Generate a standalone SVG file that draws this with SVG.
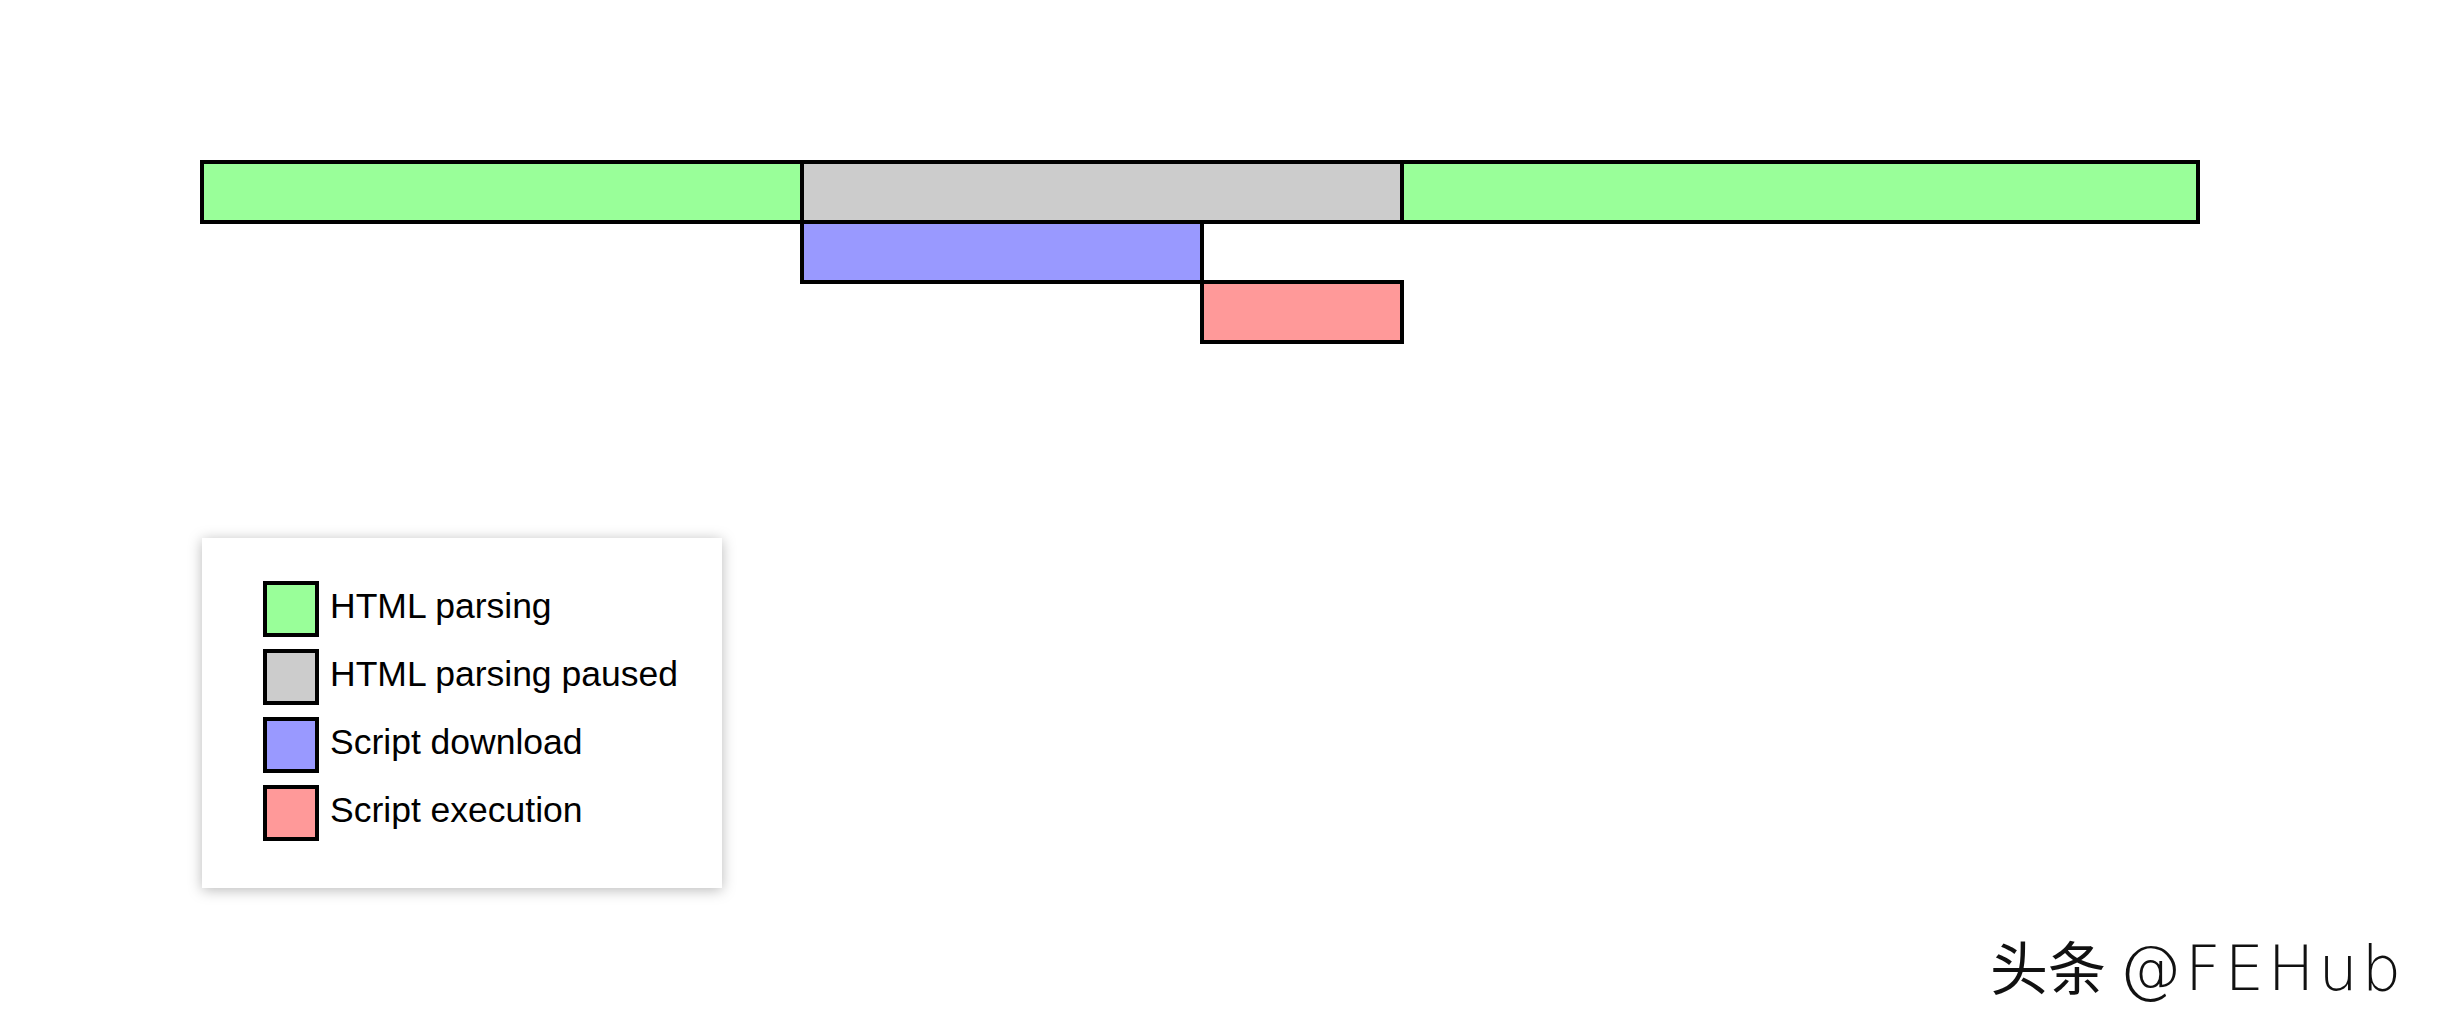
<svg xmlns="http://www.w3.org/2000/svg" width="2440" height="1030" viewBox="0 0 2440 1030">
  <defs>
    <filter id="shadow" x="-10%" y="-10%" width="120%" height="120%">
      <feDropShadow dx="0" dy="2" stdDeviation="7" flood-color="#000" flood-opacity="0.28"/>
    </filter>
  </defs>
  <style>
    .bar { stroke: #000; stroke-width: 4; }
    .parse { fill: #99ff99; }
    .paused { fill: #cccccc; }
    .download { fill: #9999ff; }
    .exec { fill: #ff9999; }
    .label { font-family: "Liberation Sans", Arial, sans-serif; font-size: 35.5px; fill: #000; }
    .wm { font-family: "Noto Sans CJK SC", "Noto Sans", sans-serif; font-size: 58px; font-weight: 400; fill: #111; }
    .wm-latin { font-family: "DejaVu Sans", "Noto Sans", sans-serif; font-size: 62px; font-weight: 200; letter-spacing: 4px; }
  </style>
  <rect width="2440" height="1030" fill="#fff"/>
  <g id="timeline">
    <g id="parse1"><rect class="bar parse" x="202" y="162" width="600" height="60"/></g>
    <g id="paused"><rect class="bar paused" x="802" y="162" width="600" height="60"/></g>
    <g id="parse2"><rect class="bar parse" x="1402" y="162" width="796" height="60"/></g>
    <g id="download"><rect class="bar download" x="802" y="222" width="400" height="60"/></g>
    <g id="execution"><rect class="bar exec" x="1202" y="282" width="200" height="60"/></g>
  </g>
  <g id="connectors"></g>
  <g id="legend">
    <rect x="202" y="538" width="520" height="350" fill="#fff" filter="url(#shadow)"/>
    <g id="legend-parse">
      <rect class="bar parse" x="265" y="583" width="52" height="52"/>
      <text class="label" x="330" y="618">HTML parsing</text>
    </g>
    <g id="legend-paused">
      <rect class="bar paused" x="265" y="651" width="52" height="52"/>
      <text class="label" x="330" y="686">HTML parsing paused</text>
    </g>
    <g id="legend-download">
      <rect class="bar download" x="265" y="719" width="52" height="52"/>
      <text class="label" x="330" y="754">Script download</text>
    </g>
    <g id="legend-exec">
      <rect class="bar exec" x="265" y="787" width="52" height="52"/>
      <text class="label" x="330" y="822">Script execution</text>
    </g>
  </g>
  <g id="watermark">
    <text class="wm" x="1990" y="990">头条 <tspan class="wm-latin">@FEHub</tspan></text>
  </g>
</svg>
